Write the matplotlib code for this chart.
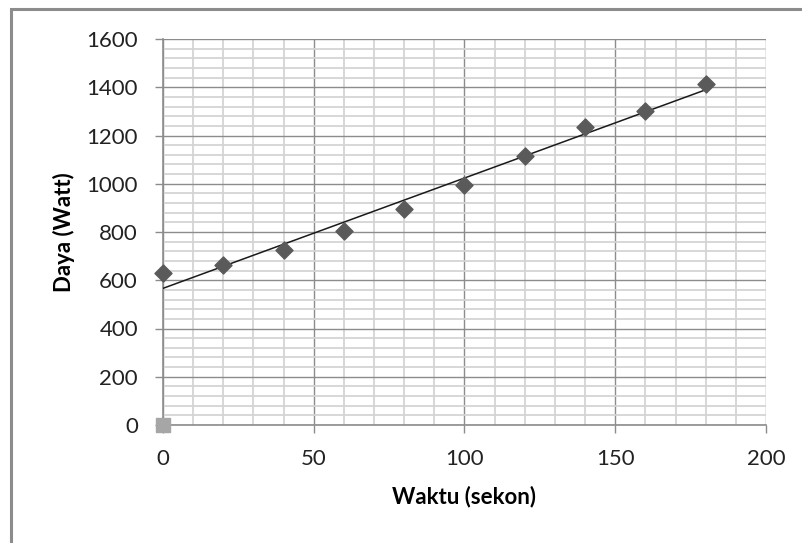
import numpy as np
import matplotlib.pyplot as plt
from matplotlib.patches import Rectangle
from matplotlib.ticker import MultipleLocator

# data
waktu = [0, 20, 40, 60, 80, 100, 120, 140, 160, 180]
daya = [630, 665, 725, 805, 895, 995, 1115, 1235, 1300, 1415]
waktu2 = [0]
daya2 = [0]

plt.rcParams['font.family'] = ['Lato', 'DejaVu Sans']

fig = plt.figure(figsize=(8.03, 5.43), dpi=100)
# chart frame (only left and top edges are visible)
fig.patches.append(Rectangle((11/803, -0.1), 1.2, (543-9)/543 + 0.1,
                             transform=fig.transFigure, fill=False,
                             edgecolor='#8c8c8c', linewidth=2.2))

ax = fig.add_axes([163/803, (543-425)/543, 603/803, 386/543])
ax.set_xlim(0, 200)
ax.set_ylim(0, 1600)
ax.xaxis.set_major_locator(MultipleLocator(50))
ax.xaxis.set_minor_locator(MultipleLocator(10))
ax.yaxis.set_major_locator(MultipleLocator(200))
ax.yaxis.set_minor_locator(MultipleLocator(40))
ax.grid(which='minor', color='#d4d4d4', linewidth=1.3)
ax.grid(which='major', color='#8c8c8c', linewidth=1.0)
ax.set_axisbelow(True)

for side in ['top', 'right']:
    ax.spines[side].set_visible(False)
for side in ['left', 'bottom']:
    ax.spines[side].set_color('#8c8c8c')
    ax.spines[side].set_linewidth(1.2)

ax.tick_params(which='major', length=6, width=1.0, color='#8c8c8c',
               labelsize=16, labelcolor='#222222')
ax.tick_params(axis='y', pad=12)
ax.tick_params(axis='x', pad=11)
ax.tick_params(which='minor', length=0)

# trendline
k, b = np.polyfit(waktu, daya, 1)
xs = np.array([waktu[0], waktu[-1]])
ax.plot(xs, k * xs + b, color='#1a1a1a', linewidth=1.1, zorder=3)

ax.scatter(waktu, daya, marker='D', s=75, color='#5a5a5a', zorder=4, clip_on=False)
ax.scatter(waktu2, daya2, marker='s', s=90, color='#a6a6a6', zorder=4, clip_on=False)

ax.set_xlabel('Waktu (sekon)', fontsize=16, fontweight='bold', labelpad=12)
ax.set_ylabel('Daya (Watt)', fontsize=16, fontweight='bold', labelpad=8)

fig.savefig('out.png', dpi=100)
